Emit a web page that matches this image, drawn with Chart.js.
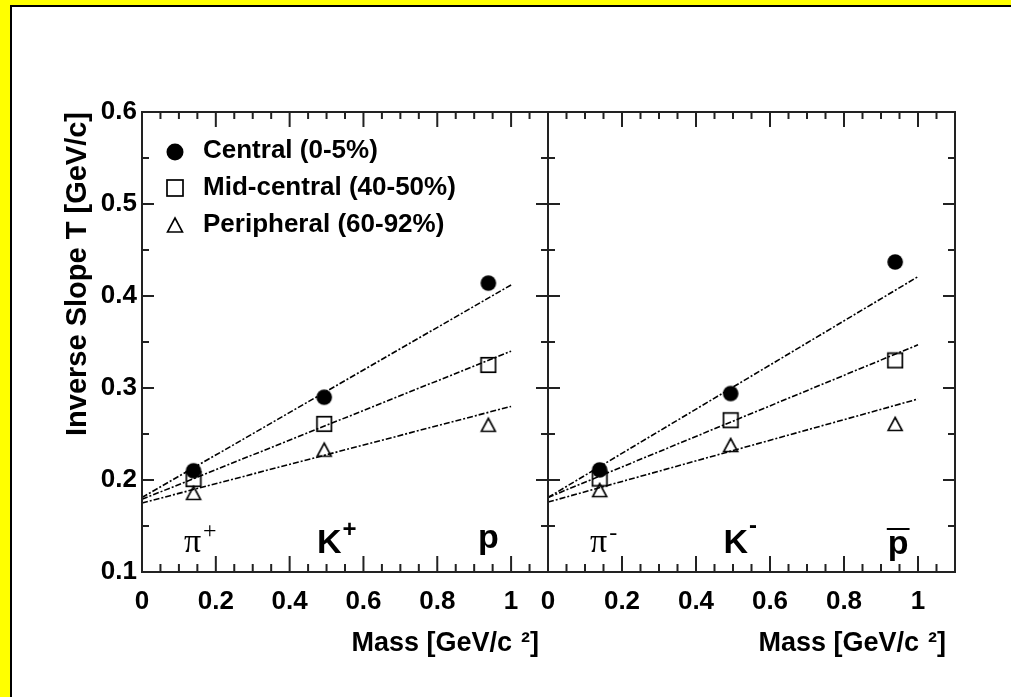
<!DOCTYPE html>
<html>
<head>
<meta charset="utf-8">
<script src="https://cdn.jsdelivr.net/npm/chart.js@4.4.0/dist/chart.umd.min.js"></script>
<style>
  html, body { margin: 0; padding: 0; background: #ffff00; }
  #page { position: relative; width: 1011px; height: 697px; background: #ffff00; overflow: hidden; }
  #sheet { position: absolute; left: 10px; top: 5px; right: 0; bottom: 0; background: #ffffff;
           border-left: 2px solid #000; border-top: 2px solid #000; }
  canvas { position: absolute; left: 0; top: 0; }
</style>
</head>
<body>
<div id="page">
  <div id="sheet"></div>
  <canvas id="panelPos" width="1011" height="697"></canvas>
  <canvas id="panelNeg" width="1011" height="697"></canvas>
</div>
<script>
// Particle masses [GeV/c^2]: pi, K, p
const masses = [0.1396, 0.4937, 0.9383];

// Inverse slope T [GeV/c], positive particles (pi+, K+, p)
const centralPos = [0.210, 0.290, 0.414];
const midPos     = [0.201, 0.261, 0.325];
const periPos    = [0.186, 0.233, 0.260];

// Inverse slope T [GeV/c], negative particles (pi-, K-, pbar)
const centralNeg = [0.211, 0.294, 0.437];
const midNeg     = [0.2015, 0.265, 0.330];
const periNeg    = [0.189, 0.238, 0.261];

// Linear fits T = T0 + m*<beta>^2, evaluated at the end masses
const fitMass       = [0, 1.0];
const fitCentralPos = [0.181, 0.412];
const fitMidPos     = [0.179, 0.340];
const fitPeriPos    = [0.175, 0.280];
const fitCentralNeg = [0.181, 0.421];
const fitMidNeg     = [0.181, 0.347];
const fitPeriNeg    = [0.176, 0.288];

// Axis ticks
const xLabelTicks = [0, 0.2, 0.4, 0.6, 0.8, 1];
const xMinorTicks = [0.05, 0.1, 0.15, 0.25, 0.3, 0.35, 0.45, 0.5, 0.55, 0.65, 0.7, 0.75, 0.85, 0.9, 0.95, 1.05];
const yLabelTicks = [0.1, 0.2, 0.3, 0.4, 0.5, 0.6];
const yMinorTicks = [0.15, 0.25, 0.35, 0.45, 0.55];

// Legend entries and particle names
const legendLabels = ['Central (0-5%)', 'Mid-central (40-50%)', 'Peripheral (60-92%)'];
const particlesPos = ['π', 'K', 'p'];
const chargesPos   = ['+', '+', ''];
const particlesNeg = ['π', 'K', 'p'];
const chargesNeg   = ['-', '-', ''];

const SANS = "'Liberation Sans', Arial, Helvetica, sans-serif";
const SERIF = "'Liberation Serif', 'Times New Roman', serif";
const INK = '#000';

// ---- marker sprites (full circle, open square, open triangle) ----
function sprite(size, paint) {
  const c = document.createElement('canvas');
  c.width = size; c.height = size;
  const g = c.getContext('2d');
  paint(g, size);
  return c;
}
function drawCircle(g, cx, cy, r) {
  g.fillStyle = '#000';
  g.beginPath(); g.arc(cx, cy, r, 0, Math.PI * 2); g.fill();
}
function drawSquare(g, cx, cy, s) {
  g.strokeStyle = '#000'; g.lineWidth = 1.7;
  g.strokeRect(cx - s / 2, cy - s / 2, s, s);
}
function drawTriangle(g, cx, cy, w, h) {
  g.strokeStyle = '#000'; g.lineWidth = 1.6; g.lineJoin = 'miter';
  g.beginPath();
  g.moveTo(cx, cy - h / 2);
  g.lineTo(cx + w / 2, cy + h / 2);
  g.lineTo(cx - w / 2, cy + h / 2);
  g.closePath(); g.stroke();
}
const markCircle   = sprite(18, (g, s) => drawCircle(g, s / 2, s / 2, 7.8));
const markSquare   = sprite(18, (g, s) => drawSquare(g, s / 2, s / 2, 14.5));
const markTriangle = sprite(18, (g, s) => drawTriangle(g, s / 2, s / 2, 14, 13));

function pts(xs, ys) { return xs.map((v, i) => ({ x: v, y: ys[i] })); }

function pointSet(label, ys, marker) {
  return { label, data: pts(masses, ys), showLine: false, pointStyle: marker,
           pointRadius: 7, pointHoverRadius: 7, order: 2 };
}
function fitSet(ys) {
  return { label: '', data: pts(fitMass, ys), showLine: true, pointRadius: 0,
           borderColor: INK, borderWidth: 1.6, borderDash: [6, 2, 2, 2], fill: false, order: 1 };
}

// ---- frame with inner ticks on all four sides ----
const frameTicks = {
  id: 'frameTicks',
  afterDraw(chart) {
    const { ctx, chartArea: a, scales: { x, y } } = chart;
    ctx.save();
    ctx.strokeStyle = '#222';
    ctx.lineWidth = 2;
    ctx.strokeRect(a.left, a.top, a.right - a.left, a.bottom - a.top);
    ctx.beginPath();
    const vTick = (v, lenB, lenT) => {
      const px = x.getPixelForValue(v);
      ctx.moveTo(px, a.bottom); ctx.lineTo(px, a.bottom - lenB);
      ctx.moveTo(px, a.top);    ctx.lineTo(px, a.top + lenT);
    };
    const hTick = (v, len) => {
      const py = y.getPixelForValue(v);
      ctx.moveTo(a.left, py);  ctx.lineTo(a.left + len, py);
      ctx.moveTo(a.right, py); ctx.lineTo(a.right - len, py);
    };
    xLabelTicks.forEach(v => vTick(v, 16, 15));
    xMinorTicks.forEach(v => vTick(v, 8, 7));
    yLabelTicks.forEach(v => hTick(v, 12));
    yMinorTicks.forEach(v => hTick(v, 7));
    ctx.stroke();
    ctx.restore();
  }
};

// ---- particle names under the points ----
const particleNames = {
  id: 'particleNames',
  afterDatasetsDraw(chart, args, opts) {
    const { ctx, chartArea: a, scales: { x } } = chart;
    ctx.save();
    ctx.fillStyle = '#000';
    ctx.textBaseline = 'alphabetic';
    opts.names.forEach((name, i) => {
      const cx = x.getPixelForValue(masses[i]);
      const isPi = name === 'π';
      let dx = 0, base = a.bottom - 19;
      if (isPi) { ctx.font = 'normal 34px ' + SERIF; dx = -1; base = a.bottom - 20; }
      else if (name === 'K') { ctx.font = 'bold 34px ' + SANS; dx = 5; base = a.bottom - 19; }
      else { ctx.font = 'bold 34px ' + SANS; dx = opts.bar ? 3 : 0; base = a.bottom - (opts.bar ? 18 : 24); }
      ctx.textAlign = 'center';
      ctx.fillText(name, cx + dx, base);
      const w = ctx.measureText(name).width;
      if (name === 'p' && opts.bar) {
        ctx.fillRect(cx + dx - w / 2 - 1, a.bottom - 44, w + 2, 2);
      }
      const q = opts.charges[i];
      if (q) {
        ctx.textAlign = 'left';
        if (isPi) {
          ctx.font = 'normal 24px ' + SERIF;
          ctx.fillText(q === '-' ? '-' : '+', cx + dx + w / 2 + 2, a.bottom - (q === '-' ? 32 : 34));
        } else {
          ctx.font = 'bold 24px ' + SANS;
          ctx.fillText(q === '-' ? '-' : '+', cx + dx + w / 2 + 1, a.bottom - (q === '-' ? 39 : 35));
        }
      }
    });
    ctx.restore();
  }
};

// ---- legend drawn inside the upper-left corner of the plot ----
const innerLegend = {
  id: 'innerLegend',
  afterDraw(chart, args, opts) {
    if (!opts.show) return;
    const { ctx, chartArea: a } = chart;
    const mx = a.left + 33, tx = a.left + 61;
    const rows = [a.top + 39, a.top + 76, a.top + 113];
    ctx.save();
    drawCircle(ctx, mx, rows[0] + 1, 8.5);
    drawSquare(ctx, mx, rows[1], 16);
    drawTriangle(ctx, mx, rows[2], 15, 14);
    ctx.fillStyle = '#000';
    ctx.font = 'bold 26px ' + SANS;
    ctx.textAlign = 'left';
    ctx.textBaseline = 'middle';
    legendLabels.forEach((t, i) => ctx.fillText(t, tx, rows[i]));
    ctx.restore();
  }
};

const tickFont = { family: SANS, size: 26, weight: 'bold' };

function makePanel(id, sets, cfg) {
  return new Chart(document.getElementById(id), {
    type: 'scatter',
    data: { datasets: sets },
    plugins: [frameTicks, particleNames, innerLegend],
    options: {
      responsive: false,
      animation: false,
      events: [],
      layout: { padding: { left: 0, top: 112, right: cfg.padRight, bottom: 0 } },
      plugins: {
        legend: { display: false },
        tooltip: { enabled: false },
        particleNames: { names: cfg.names, charges: cfg.charges, bar: cfg.bar },
        innerLegend: { show: cfg.legend }
      },
      scales: {
        x: {
          type: 'linear', min: 0, max: 1.1, position: 'bottom',
          grid: { display: false, drawTicks: false }, border: { display: false },
          afterBuildTicks: axis => { axis.ticks = xLabelTicks.map(v => ({ value: v })); },
          afterFit: axis => { axis.height = 125; },
          ticks: { font: tickFont, color: '#000', padding: 14, maxRotation: 0, autoSkip: false,
                   callback: v => String(v) },
          title: { display: true, text: 'Mass [GeV/c\u2004²]\u2004', align: 'end', color: '#000',
                   font: { family: SANS, size: 27, weight: 'bold' }, padding: { top: 0, bottom: 37 } }
        },
        y: {
          type: 'linear', min: 0.1, max: 0.6, position: 'left',
          grid: { display: false, drawTicks: false }, border: { display: false },
          afterBuildTicks: axis => { axis.ticks = yLabelTicks.map(v => ({ value: v })); },
          afterFit: axis => { axis.width = cfg.yWidth; },
          ticks: { display: cfg.yLabels, font: tickFont, color: '#000', padding: 5,
                   callback: v => v.toFixed(1) },
          title: { display: cfg.yLabels, text: 'Inverse Slope T [GeV/c]', align: 'end', color: '#000',
                   font: { family: SANS, size: 29, weight: 'bold' }, padding: { top: 61, bottom: 0 } }
        }
      }
    }
  });
}

makePanel('panelPos', [
  pointSet(legendLabels[0], centralPos, markCircle),
  pointSet(legendLabels[1], midPos, markSquare),
  pointSet(legendLabels[2], periPos, markTriangle),
  fitSet(fitCentralPos), fitSet(fitMidPos), fitSet(fitPeriPos)
], { padRight: 463, yWidth: 142, yLabels: true, legend: true,
     names: particlesPos, charges: chargesPos, bar: false });

makePanel('panelNeg', [
  pointSet(legendLabels[0], centralNeg, markCircle),
  pointSet(legendLabels[1], midNeg, markSquare),
  pointSet(legendLabels[2], periNeg, markTriangle),
  fitSet(fitCentralNeg), fitSet(fitMidNeg), fitSet(fitPeriNeg)
], { padRight: 56, yWidth: 548, yLabels: false, legend: false,
     names: particlesNeg, charges: chargesNeg, bar: true });
</script>
</body>
</html>
